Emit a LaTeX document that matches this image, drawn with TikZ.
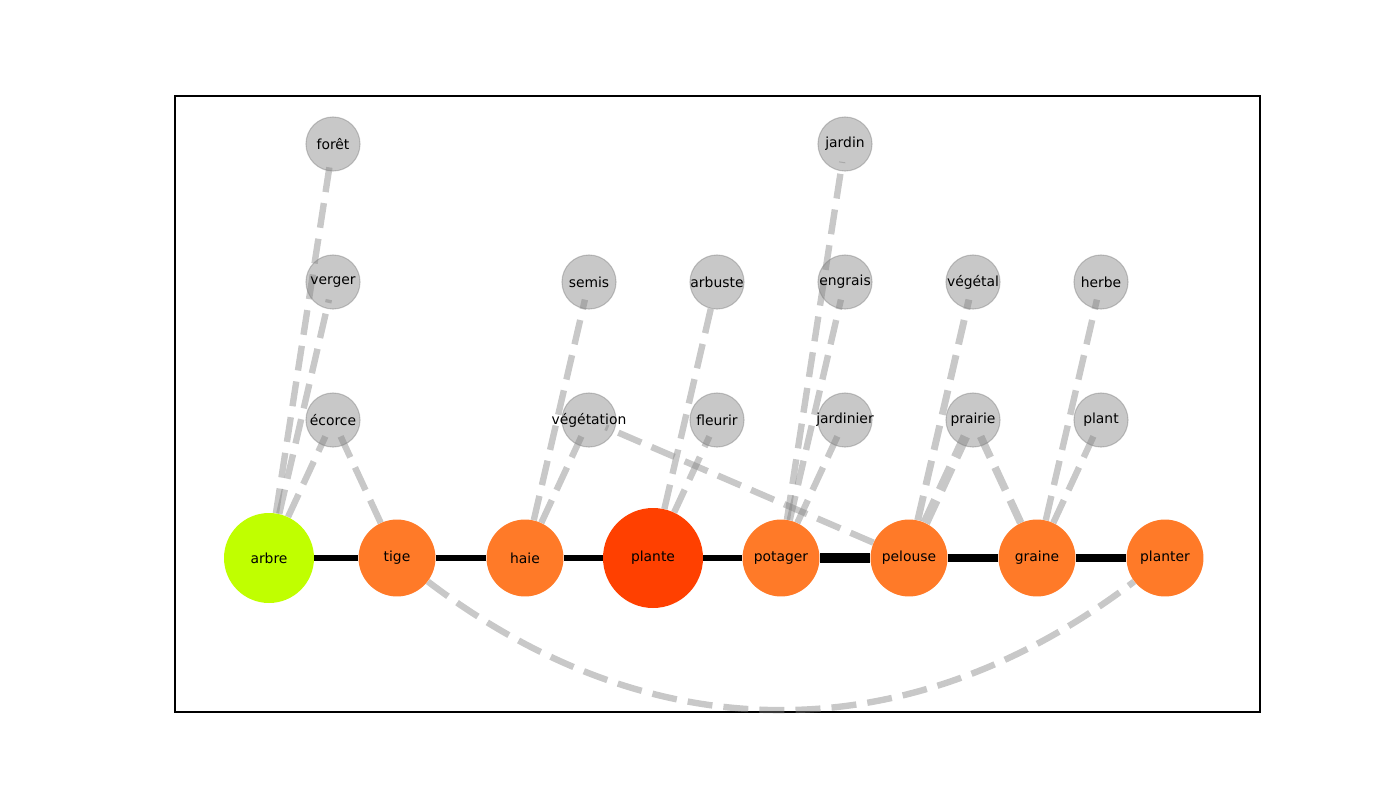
\documentclass[tikz,border=0pt]{standalone}
\usepackage{fontspec}
\setmainfont{DejaVu Sans}
\usetikzlibrary{arrows.meta,backgrounds}
\definecolor{arbrecol}{HTML}{C0FF00}
\definecolor{orangecol}{HTML}{FF7A28}
\definecolor{plantecol}{HTML}{FF4000}
\newcommand{\zw}[1]{\makebox[0pt]{#1}}
\begin{document}
\begin{tikzpicture}[x=0.72pt,y=-0.72pt,
  main/.style={circle, inner sep=0pt, text=black, font=\fontsize{10}{12}\selectfont},
  orangenode/.style={main, fill=orangecol, minimum size=55.4pt},
  graynode/.style={main, minimum size=38.9pt, fill=gray, draw=gray, fill opacity=0.43, draw opacity=0.43, text opacity=1, line width=0.8pt},
  link/.style={line width=4.3pt, draw=black},
  dep/.style={draw=gray, draw opacity=0.43, line width=4.6pt, dash pattern=on 18pt off 8pt, shorten >=13pt}
]
\useasboundingbox (0,0) rectangle (1400,800);

% main nodes
\node[main, fill=arbrecol, minimum size=64.8pt] (arbre) at (269,558) {arbre};
\node[orangenode] (tige) at (397,558) {tige};
\node[orangenode] (haie) at (525,558) {haie};
\node[main, fill=plantecol, minimum size=72pt] (plante) at (653,558) {plante};
\node[orangenode] (potager) at (781,558) {potager};
\node[orangenode] (pelouse) at (909,558) {pelouse};
\node[orangenode] (graine) at (1037,558) {graine};
\node[orangenode] (planter) at (1165,558) {planter};

% gray nodes
\node[graynode] (foret) at (333,144) {\zw{forêt}};
\node[graynode] (verger) at (333,282) {\zw{verger}};
\node[graynode] (ecorce) at (333,420) {\zw{écorce}};
\node[graynode] (semis) at (589,282) {\zw{semis}};
\node[graynode] (vegetation) at (589,420) {\zw{végétation}};
\node[graynode] (arbuste) at (717,282) {\zw{arbuste}};
\node[graynode] (fleurir) at (717,420) {\zw{fleurir}};
\node[graynode] (jardin) at (845,144) {\zw{jardin}};
\node[graynode] (engrais) at (845,282) {\zw{engrais}};
\node[graynode] (jardinier) at (845,420) {\zw{jardinier}};
\node[graynode] (vegetal) at (973,282) {\zw{végétal}};
\node[graynode] (prairie) at (973,420) {\zw{prairie}};
\node[graynode] (herbe) at (1101,282) {\zw{herbe}};
\node[graynode] (plant) at (1101,420) {\zw{plant}};

\begin{scope}[on background layer]
\draw[line width=0.8pt] (175,96) rectangle (1260,712);
% main chain
\draw[link] (arbre) -- (tige);
\draw[link] (tige) -- (haie);
\draw[link] (haie) -- (plante);
\draw[link] (plante) -- (potager);
\draw[link, line width=6.5pt] (potager) -- (pelouse);
\draw[link, line width=5.2pt] (pelouse) -- (graine);
\draw[link, line width=5.2pt] (graine) -- (planter);
% dashed edges
\draw[dep] (arbre) -- (foret.center);
\draw[dep] (arbre) -- (verger.center);
\draw[dep] (arbre) -- (ecorce.center);
\draw[dep] (tige) -- (ecorce.center);
\draw[dep] (haie) -- (semis.center);
\draw[dep] (haie) -- (vegetation.center);
\draw[dep] (plante) -- (arbuste.center);
\draw[dep] (plante) -- (fleurir.center);
\draw[dep] (potager) -- (jardin.center);
\draw[dep] (potager) -- (engrais.center);
\draw[dep] (potager) -- (jardinier.center);
\draw[dep] (pelouse) -- (vegetation.center);
\draw[dep, line width=5pt] (pelouse) -- (vegetal.center);
\draw[dep, line width=7pt] (pelouse) -- (prairie.center);
\draw[dep, line width=5.5pt] (graine) -- (prairie.center);
\draw[dep] (graine) -- (herbe.center);
\draw[dep] (graine) -- (plant.center);
\draw[dep, shorten >=0pt] (tige) .. controls (653,753) and (909,753) .. (planter);
\end{scope}
\end{tikzpicture}
\end{document}
